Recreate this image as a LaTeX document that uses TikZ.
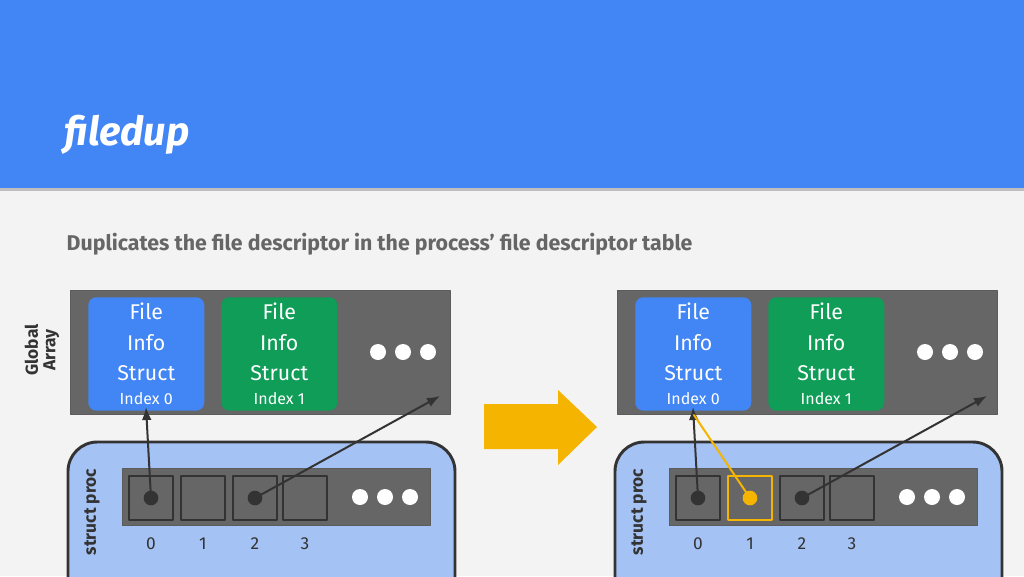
\documentclass[tikz,border=0pt]{standalone}
\usepackage{fontspec}
\setmainfont{Fira Sans}
\usetikzlibrary{arrows.meta,positioning,calc}
\definecolor{hdr}{HTML}{4285F4}
\definecolor{pagebg}{HTML}{F3F3F3}
\definecolor{slate}{HTML}{666666}
\definecolor{ink}{HTML}{333333}
\definecolor{grn}{HTML}{0F9D58}
\definecolor{gold}{HTML}{F4B400}
\definecolor{procbg}{HTML}{A4C2F4}
\tikzset{
  >=Latex,
  every picture/.style={line cap=round, line join=round},
  array/.style={draw=ink!80, fill=slate, line width=0.6pt, minimum width=285pt, minimum height=93pt, anchor=north west},
  info/.style={rounded corners=6pt, minimum width=87pt, minimum height=85pt, anchor=north west, text=white, align=center, font=\fontsize{16}{23}\selectfont, inner sep=0pt},
  proc/.style={draw=ink, fill=procbg, line width=2.2pt, rounded corners=22pt},
  bar/.style={draw=ink!80, fill=slate, minimum width=231pt, minimum height=43pt, anchor=north west},
  cell/.style={draw=ink, line width=1.5pt, minimum size=33pt, anchor=north west, inner sep=0pt},
  dot/.style={circle, fill=white, minimum size=12pt, inner sep=0pt},
  pin/.style={circle, fill=ink, minimum size=11pt, inner sep=0pt},
  ptr/.style={->, line width=1.5pt, draw=ink},
  idx/.style={font=\fontsize{13}{13}\selectfont, text=ink}
}
\begin{document}
\begin{tikzpicture}[x=0.75pt, y=-0.75pt]
  \useasboundingbox (0,0) rectangle (1024,576);
  \clip (0,0) rectangle (1024,576);
  % Background and header
  \fill[pagebg] (0,0) rectangle (1024,576);
  \fill[black!25] (0,188) rectangle (1024,191);
  \fill[hdr] (0,0) rectangle (1024,188);
  \node[anchor=base west, text=white, font=\fontsize{30}{30}\selectfont\bfseries\itshape] (title) at (60,145) {filedup};
  \node[anchor=base west, text=slate, font=\fontsize{16}{16}\selectfont\bfseries] (sub) at (62,250)
    {Duplicates the file descriptor in the process’ file descriptor table};
  \node[rotate=90, align=center, text=ink, font=\fontsize{13}{13}\selectfont\bfseries] (glob) at (42,350) {Global\\Array};

  % Two snapshots
  \foreach \dx/\s in {0/L, 547/R} {
    \begin{scope}[xshift=\dx*0.75pt]
      \node[array] (arr\s) at (70,290) {};
      \node[info, fill=hdr] (f0\s) at (88,297) {File\\Info\\Struct\\[-5pt]{\fontsize{12}{12}\selectfont Index 0}};
      \node[info, fill=grn] (f1\s) at (221,297) {File\\Info\\Struct\\[-5pt]{\fontsize{12}{12}\selectfont Index 1}};
      \foreach \x in {378,403,428} \node[dot] at (\x,352) {};
      \draw[proc] (68,442) rectangle (455,640);
      \node[rotate=90, text=ink, font=\fontsize{13}{13}\selectfont\bfseries] (sp\s) at (92,512) {struct proc};
      \node[bar] (bar\s) at (122,468) {};
      \foreach \x [count=\i from 0] in {128,180,232,282} {
        \node[cell] (c\i\s) at (\x,475) {};
        \node[idx] at ($(c\i\s)+(0,46)$) {\i};
      }
      \foreach \x in {360,385,410} \node[dot] at (\x,497) {};
      \coordinate (tip0\s) at (146,407);
      \coordinate (tip2\s) at (440,396);
    \end{scope}
  }

  % Left pointers
  \node[pin] (p0L) at (c0L) {};
  \node[pin] (p2L) at (c2L) {};
  \draw[ptr] (p0L.center) -- (tip0L);
  \draw[ptr] (p2L.center) -- (tip2L);

  % Right pointers
  \node[cell, draw=gold, fill=none] at (c1R.north west) {};
  \node[pin] (p0R) at (c0R) {};
  \node[pin, fill=gold] (p1R) at (c1R) {};
  \node[pin] (p2R) at (c2R) {};
  \draw[ptr] (p0R.center) -- (tip0R);
  \draw[line width=1.5pt, draw=gold] (p1R.center) -- ($(tip0R)+(1,8)$);
  \draw[ptr] (p2R.center) -- (tip2R);

  % Transition arrow
  \fill[gold] (484,404) -- (558,404) -- (558,390) -- (597,427) -- (558,465) -- (558,449) -- (484,449) -- cycle;
\end{tikzpicture}
\end{document}
